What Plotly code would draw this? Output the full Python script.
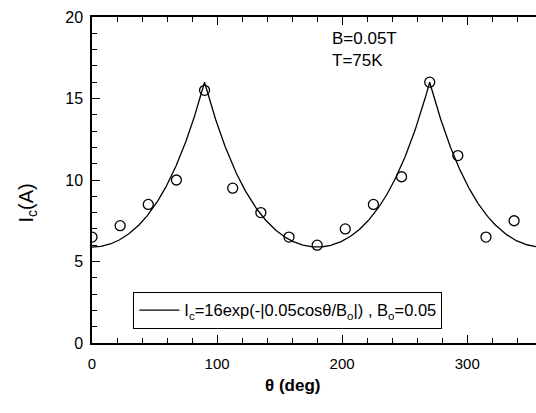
import numpy as np
import plotly.graph_objects as go

theta_deg = [0, 22.5, 45, 67.5, 90, 112.5, 135, 157.5, 180, 202.5, 225, 247.5, 270, 292.5, 315, 337.5]
ic_amp = [6.5, 7.2, 8.5, 10.0, 15.5, 9.5, 8.0, 6.5, 6.0, 7.0, 8.5, 10.2, 16.0, 11.5, 6.5, 7.5]

# Fit curve parameters from the legend: Ic = 16 exp(-|0.05 cos(theta)/B0|)
fit_A = 16.0
fit_B = 0.05
fit_B0 = 0.05
fit_theta = np.linspace(0, 360, 1441)
fit_ic = fit_A * np.exp(-np.abs(fit_B * np.cos(np.radians(fit_theta)) / fit_B0))

x_ticks = [0, 100, 200, 300]
y_ticks = [0, 5, 10, 15, 20]

FONT = "Liberation Sans, Arial, Helvetica, sans-serif"

fig = go.Figure()
fig.add_trace(go.Scatter(
    x=fit_theta, y=fit_ic, mode="lines",
    line=dict(color="black", width=1.3),
    name="I<sub>c</sub>=16exp(-|0.05cosθ/B<sub>o</sub>|) , B<sub>o</sub>=0.05",
    showlegend=True,
))
fig.add_trace(go.Scatter(
    x=theta_deg, y=ic_amp, mode="markers",
    marker=dict(symbol="circle-open", size=10, color="black", line=dict(width=1.3)),
    showlegend=False,
))

fig.update_layout(
    width=536, height=413,
    margin=dict(l=92, r=0, t=17, b=70),
    paper_bgcolor="white", plot_bgcolor="white",
    font=dict(family=FONT, color="black", size=15),
    legend=dict(
        x=0.093, y=0.157, xanchor="left", yanchor="top",
        bordercolor="black", borderwidth=1, bgcolor="white",
        font=dict(size=16.5, family=FONT),
        itemwidth=40,
    ),
    annotations=[
        dict(text="B=0.05T<br>T=75K", x=0.535, y=0.97, xref="paper", yref="paper",
             xanchor="left", yanchor="top", showarrow=False, align="left",
             font=dict(size=17, family=FONT)),
        dict(text="<b>θ (deg)</b>", x=0.452, y=-0.095, xref="paper", yref="paper",
             xanchor="center", yanchor="top", showarrow=False,
             font=dict(size=17, family=FONT)),
        dict(text="I<sub>c</sub>(A)", x=-0.145, y=0.43, xref="paper", yref="paper",
             xanchor="center", yanchor="middle", showarrow=False, textangle=-90,
             font=dict(size=20, family=FONT)),
    ],
)

fig.update_xaxes(
    range=[0, 355], tickvals=x_ticks, ticktext=[str(v) for v in x_ticks],
    ticks="inside", ticklen=8, tickwidth=1.2, tickcolor="black",
    showline=True, linecolor="black", linewidth=1.5, mirror="ticks",
    showgrid=False, zeroline=False,
    minor=dict(dtick=20, tick0=0, ticks="inside", ticklen=5, tickwidth=1, tickcolor="black"),
    tickfont=dict(size=15), ticklabelstandoff=6,
)
fig.update_yaxes(
    range=[0, 20], tickvals=y_ticks, ticktext=[str(v) for v in y_ticks],
    ticks="inside", ticklen=8, tickwidth=1.2, tickcolor="black",
    showline=True, linecolor="black", linewidth=1.5, mirror=False,
    showgrid=False, zeroline=False,
    minor=dict(dtick=1, tick0=0, ticks="inside", ticklen=5, tickwidth=1, tickcolor="black"),
    tickfont=dict(size=16), ticklabelstandoff=4,
)

fig.write_html("out.html")
